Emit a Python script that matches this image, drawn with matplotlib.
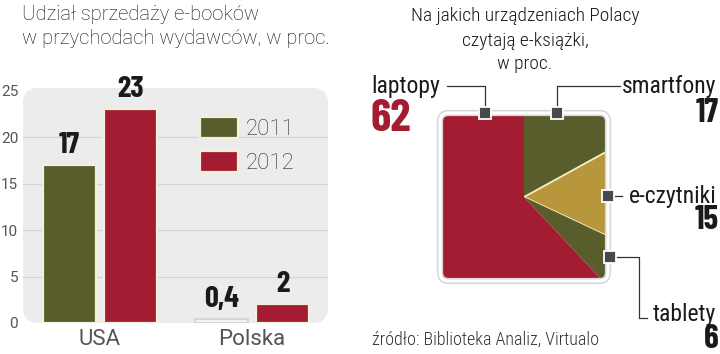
import numpy as np
import matplotlib
matplotlib.use("Agg")
import matplotlib.pyplot as plt
from matplotlib.patches import FancyBboxPatch, Patch

# --- dane ---
kraje = ["USA", "Polska"]
lata = ["2011", "2012"]
udzial_2011 = [17, 0.4]
udzial_2012 = [23, 2]
etykiety_2011 = ["17", "0,4"]
etykiety_2012 = ["23", "2"]

urzadzenia = ["smartfony", "e-czytniki", "tablety", "laptopy"]
proc_urzadzen = [17, 15, 6, 62]

RED = "#a31c31"
OLIVE = "#585d2b"
GOLD = "#b8973c"
MARK = "#48494e"
TXT = "#1a1a1a"

plt.rcParams['font.family'] = ['Roboto Condensed', 'DejaVu Sans']
BIG = ['Barlow Condensed', 'Roboto Condensed', 'DejaVu Sans']
WIDE = ['Roboto', 'DejaVu Sans']

W, H = 720, 354
fig = plt.figure(figsize=(7.2, 3.54), dpi=100)

def px_axes(x0, y0, x1, y1):
    # y w pikselach od gory
    return fig.add_axes([x0 / W, 1 - y1 / H, (x1 - x0) / W, (y1 - y0) / H])

# ---------------- wykres slupkowy ----------------
ax = px_axes(23, 88, 328, 323)
ax.set_xlim(-0.507, 1.5)
ax.set_ylim(0, 25.3)
panel = FancyBboxPatch((0, 0), 1, 1, boxstyle="round,pad=0,rounding_size=0.05",
                       transform=ax.transAxes, facecolor="#ececec", edgecolor="none",
                       zorder=0, mutation_aspect=305 / 235)
ax.add_patch(panel)
for v in [5, 10, 15, 20]:
    ax.axhline(v, color="#d3d3d3", lw=0.8, zorder=1)

x = np.arange(len(kraje))
w = 0.35
off = 0.2
b1 = ax.bar(x - off, udzial_2011, w, color=OLIVE, edgecolor="#f3f0dc", lw=1.6, zorder=2,
            label=lata[0])
b2 = ax.bar(x + off, udzial_2012, w, color=RED, edgecolor="#f3f0dc", lw=1.6, zorder=2,
            label=lata[1])
b1[1].set_facecolor("#f6f6f6")
b1[1].set_edgecolor("#d6d6d6")
for bars, labs in [(b1, etykiety_2011), (b2, etykiety_2012)]:
    for b, t in zip(bars, labs):
        ax.text(b.get_x() + b.get_width() / 2, b.get_height() + 0.7, t,
                ha="center", va="bottom", fontsize=22, fontweight="bold", color=TXT,
                family=BIG)

ax.set_xticks(x)
ax.set_xticklabels(kraje, fontsize=16, color=TXT, family=WIDE)
ax.set_yticks(range(0, 26, 5))
ax.tick_params(length=0, labelcolor="#555555")
ax.tick_params(axis="x", pad=4)
ax.tick_params(axis="y", pad=3.5, labelsize=11)
for lab in ax.get_yticklabels():
    lab.set_family(WIDE)
for s in ax.spines.values():
    s.set_visible(False)
ax.patch.set_visible(False)

handles = [Patch(facecolor=OLIVE, edgecolor="#f3f0dc", lw=1.6),
           Patch(facecolor=RED, edgecolor="#f3f0dc", lw=1.6)]
leg = ax.legend(handles, lata, loc="upper left", bbox_to_anchor=(0.58, 0.875), frameon=False,
                prop=dict(family=WIDE, size=16, weight="light"),
                handlelength=1.7, handleheight=1.05, labelspacing=0.5,
                handletextpad=0.35, borderpad=0, borderaxespad=0, labelcolor="#2a2a2a")

lt = dict(fontsize=14.5, color="#111111", fontweight="light", va="center", ha="left",
          family=WIDE)
fig.text(22 / W, 1 - 14 / H, "Udział sprzedaży e-booków", **lt)
fig.text(22 / W, 1 - 39 / H, "w przychodach wydawców, w proc.", **lt)

# ---------------- wykres kolowy w kwadracie ----------------
pa = px_axes(440, 113, 608, 281)
wedges, _ = pa.pie(proc_urzadzen, colors=[OLIVE, GOLD, OLIVE, RED], startangle=90,
                   counterclock=False, radius=1.7, center=(0, 0),
                   wedgeprops=dict(linewidth=0, edgecolor="none"), frame=True)
pa.set_xlim(-1, 1)
pa.set_ylim(-1, 1)
pa.set_aspect("equal")
pa.axis("off")
clip = FancyBboxPatch((-1, -1), 2, 2, boxstyle="round,pad=0,rounding_size=0.1",
                      transform=pa.transData, facecolor="none", edgecolor="none")
pa.add_patch(clip)
for wd in wedges:
    wd.set_clip_on(True)
    wd.set_clip_path(clip)
wedges[1].set_edgecolor("#f5efc8")
wedges[1].set_linewidth(1.3)
for lw_, col in [(4.5, "#d8d8d8"), (2.2, "white")]:
    pa.add_patch(FancyBboxPatch((-1, -1), 2, 2, boxstyle="round,pad=0,rounding_size=0.1",
                                facecolor="none", edgecolor=col, lw=lw_, zorder=5,
                                clip_on=False))

# linie odnosnikow (jednostki osi kola, 84 px / jednostke)
def line(xs, ys):
    pa.plot(xs, ys, color="#333333", lw=0.9, clip_on=False, zorder=6)

def marker(xm, ym):
    pa.plot([xm], [ym], marker="s", ms=8, mfc=MARK, mec="white", mew=1.3,
            clip_on=False, zorder=7)

line([-0.46, -0.46, -0.92], [1.0, 1.32, 1.32]); marker(-0.46, 1.0)
line([0.39, 0.39, 1.14], [1.0, 1.32, 1.32]); marker(0.39, 1.0)
line([1.0, 1.17], [0.01, 0.01]); marker(1.0, 0.01)
line([1.02, 1.37, 1.37, 1.46], [-0.72, -0.72, -1.44, -1.44]); marker(1.02, -0.72)

lkw = dict(va="center", fontsize=17, color=TXT)
nkw = dict(va="center", fontsize=24, fontweight="bold", color=TXT, family=BIG)
pa.text(-1.0, 1.32, "laptopy", ha="right", **lkw)
pa.text(-1.83, 0.93, "62", ha="left", **dict(nkw, fontsize=33, color=RED))
pa.text(2.29, 1.32, "smartfony", ha="right", **lkw)
pa.text(2.32, 1.0, "17", ha="right", **nkw)
pa.text(2.29, 0.01, "e-czytniki", ha="right", **lkw)
pa.text(2.32, -0.27, "15", ha="right", **nkw)
pa.text(2.29, -1.40, "tablety", ha="right", **lkw)
pa.text(2.32, -1.69, "6", ha="right", **nkw)

rt = dict(fontsize=14, color=TXT, fontweight="light", va="center", ha="center")
fig.text(525 / W, 1 - 16 / H, "Na jakich urządzeniach Polacy", **rt)
fig.text(525 / W, 1 - 41 / H, "czytają e-książki,", **rt)
fig.text(525 / W, 1 - 64 / H, "w proc.", **rt)
fig.text(372 / W, 1 - 340 / H, "źródło: Biblioteka Analiz, Virtualo", fontsize=13,
         fontweight="light", color="#333333", ha="left", va="center")

fig.savefig("out.png", dpi=100)
